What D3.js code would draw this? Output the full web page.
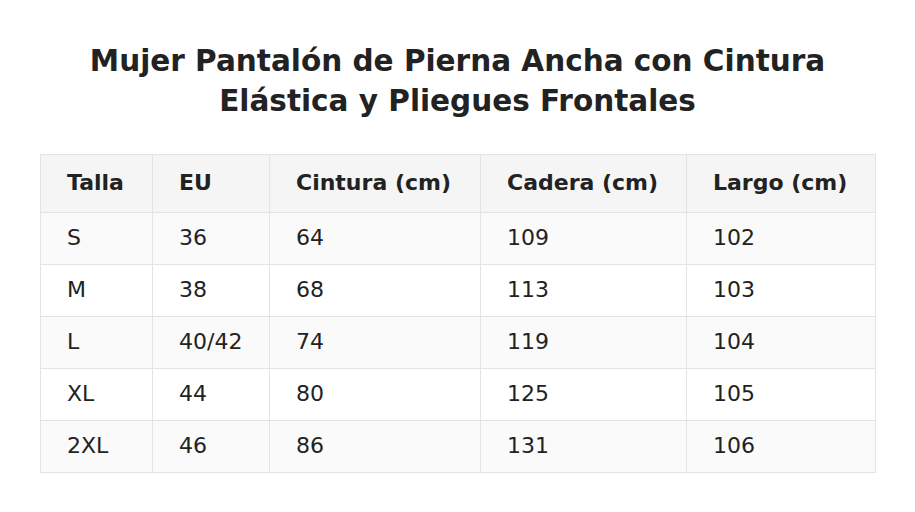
<!DOCTYPE html>
<html><head><meta charset="utf-8">
<script src="https://cdn.jsdelivr.net/npm/d3@7"></script>
<style>body{margin:0;background:#fff}</style></head>
<body><script>
const titleLines = ["Mujer Pantalón de Pierna Ancha con Cintura", "Elástica y Pliegues Frontales"];
const headers = ["Talla", "EU", "Cintura (cm)", "Cadera (cm)", "Largo (cm)"];
const tallas = ["S", "M", "L", "XL", "2XL"];
const eu = ["36", "38", "40/42", "44", "46"];
const cintura = [64, 68, 74, 80, 86];
const cadera = [109, 113, 119, 125, 131];
const largo = [102, 103, 104, 105, 106];

const W = 915, H = 512;
const svg = d3.select("body").append("svg").attr("width", W).attr("height", H)
  .style("font-family", "DejaVu Sans, Verdana, sans-serif");
svg.selectAll("text.title").data(titleLines).join("text")
  .attr("x", W/2).attr("y", (d,i) => 71 + i*40).attr("text-anchor", "middle")
  .attr("font-size", 29.5).attr("font-weight", "bold").attr("fill", "#222").text(d => d);

const colEdges = [40, 152, 269, 480, 686, 875];
const rows = [headers].concat(tallas.map((t,i) => [t, eu[i], cintura[i], cadera[i], largo[i]]));
const y = d3.scaleOrdinal().domain(d3.range(rows.length)).range([154,212,264,316,368,420]);
const rh = i => i === 0 ? 58 : 52;
const g = svg.append("g");
rows.forEach((r, i) => {
  const bg = i === 0 ? "#f5f5f5" : (i % 2 === 1 ? "#fafafa" : "#ffffff");
  r.forEach((c, j) => {
    g.append("rect").attr("x", colEdges[j] + 0.5).attr("y", y(i) + 0.5)
      .attr("width", colEdges[j+1] - colEdges[j]).attr("height", rh(i))
      .attr("fill", bg).attr("stroke", "#e3e3e3").attr("stroke-width", 1);
    g.append("text").attr("x", colEdges[j] + 27).attr("y", y(i) + rh(i)/2 + 7)
      .attr("font-size", 22).attr("font-weight", i === 0 ? "bold" : "normal")
      .attr("fill", "#222").text(c);
  });
});
</script></body></html>
